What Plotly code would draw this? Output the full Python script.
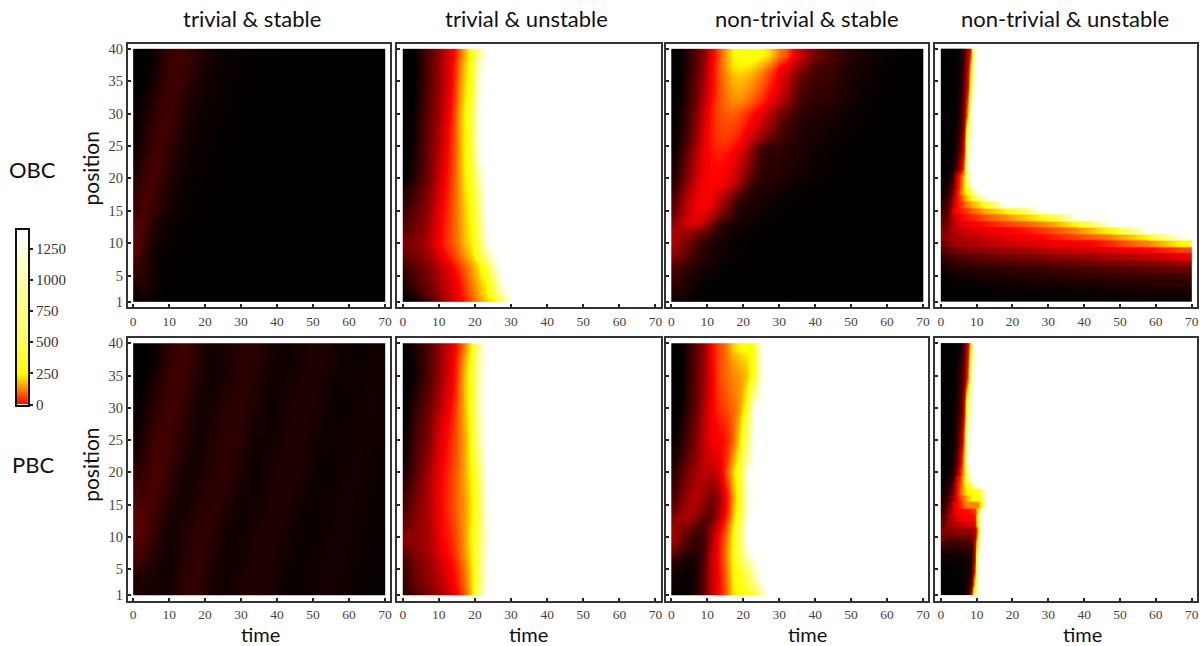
import plotly.graph_objects as go

# ---------- text ----------
column_titles = ["trivial & stable", "trivial & unstable", "non-trivial & stable", "non-trivial & unstable"]
row_titles = ["OBC", "PBC"]
time_ticks = [0, 10, 20, 30, 40, 50, 60, 70]
position_ticks = [1, 5, 10, 15, 20, 25, 30, 35, 40]
colorbar_ticks = [0, 250, 500, 750, 1000, 1250]
colorbar_levels = [0, 50, 100, 150, 200, 250, 300, 400, 500, 600, 750, 900, 1000, 1100, 1250, 1400]

BLACK = -400   # darkest shade, below the colour key
WHITE = 1400   # over-range

# ---------- top left: trivial & stable, OBC ----------
a_time = [0, 2, 4, 6, 8, 10, 12, 14, 16, 18, 20, 24, 28, 34, 44, 70]
a_pos = [1, 3, 5, 8, 10, 12, 15, 20, 25, 30, 35, 40]
a_z = [
    [-385, -370, -380, -390, -396, -398],
    [-350, -345, -370, -385, -392, -396, -398],
    [-310, -335, -365, -385, -392, -395, -397, -398, -399],
    [-265, -315, -360, -380, -388, -392, -395, -396, -397, -398, -399],
    [-260, -295, -345, -370, -382, -388, -392, -395, -396, -397, -398, -399],
    [-280, -285, -325, -355, -370, -380, -388, -392, -394, -395, -396, -398, -399],
    [-320, -285, -290, -325, -350, -365, -378, -385, -390, -393, -395, -397, -398, -399],
    [-365, -325, -295, -295, -320, -345, -365, -375, -383, -388, -392, -395, -397, -399],
    [-385, -360, -325, -300, -300, -315, -345, -365, -375, -380, -388, -393, -396, -398],
    [-395, -385, -355, -320, -305, -305, -320, -345, -360, -370, -380, -388, -395, -398],
    [-400, -400, -385, -355, -325, -310, -305, -315, -335, -350, -370, -385, -392, -397],
]

# ---------- top, second column: trivial & unstable, OBC ----------
b_time = [0, 2, 4, 6, 8, 10, 12, 14, 16, 18, 20, 22, 24, 26, 28, 30]
b_pos = [1, 2, 6, 8, 12, 18, 22, 28, 32, 38, 40]
b_z = [
    [-400, -385, -335, -285, -235, -170, -100, -35, 25, 80, 140, 200, 250, 500, 1100],
    [-345, -300, -260, -220, -170, -115, -60, 0, 60, 125, 185, 240, 550, 1300],
    [-285, -240, -215, -190, -130, -65, 0, 60, 110, 165, 235, 500, 1200],
    [-205, -190, -165, -110, -40, 20, 70, 115, 185, 235, 450, 1200],
    [-300, -260, -220, -160, -75, 0, 60, 125, 195, 270, 650],
    [-395, -340, -285, -215, -130, -40, 45, 125, 225, 330, 900],
    [-400, -375, -300, -230, -160, -70, 30, 125, 235, 400, 1300],
    [-400, -395, -320, -245, -190, -100, 0, 125, 240, 450, 1300],
    [-400, -400, -335, -265, -205, -120, -25, 95, 200, 300, 1200],
    [-400, -400, -340, -270, -210, -130, -45, 60, 170, 280, 800],
]

# ---------- top, third column: non-trivial & stable, OBC ----------
c_time = [0, 2, 4, 6, 8, 10, 12, 14, 16, 18, 20, 22, 24, 26, 28, 30, 34, 38, 42, 46, 50, 56, 62, 70]
c_pos = [1, 2, 6, 8, 12, 14, 18, 20, 24, 26, 30, 32, 36, 38, 40]
c_z = [
    [-375, -380, -390, -395, -398],
    [-330, -340, -360, -375, -385, -390, -393, -396, -398],
    [-250, -280, -310, -335, -350, -365, -380, -385, -390, -393, -396, -398],
    [-130, -190, -240, -290, -330, -350, -360, -370, -382, -388, -392, -395, -397, -398, -399],
    [-170, -90, -50, -60, -120, -210, -300, -345, -360, -365, -375, -385, -390, -393, -396, -398],
    [-260, -160, -80, -20, -5, -30, -110, -190, -280, -345, -355, -355, -365, -375, -385, -390, -395, -398],
    [-320, -230, -140, -50, -10, 0, -5, -40, -100, -190, -280, -340, -350, -345, -355, -370, -385, -392, -396, -398],
    [-360, -280, -190, -90, -25, 5, 10, 0, -40, -100, -170, -260, -320, -335, -330, -345, -365, -380, -390, -395, -398],
    [-380, -320, -235, -130, -30, 20, 40, 40, 20, -30, -100, -200, -290, -330, -320, -335, -355, -372, -385, -393, -397],
    [-390, -345, -265, -170, -50, 25, 60, 70, 65, 45, 5, -40, -100, -170, -230, -300, -345, -355, -370, -385, -393, -398],
    [-395, -365, -285, -200, -90, 15, 70, 100, 115, 100, 75, 40, 0, -60, -120, -210, -320, -335, -345, -365, -385, -396],
    [-400, -380, -305, -230, -130, -10, 60, 120, 160, 170, 150, 120, 80, 30, -15, -110, -280, -310, -320, -350, -375, -393, -399],
    [-400, -385, -315, -250, -160, -20, 70, 150, 215, 230, 220, 195, 150, 95, 40, -50, -190, -285, -300, -340, -370, -390, -398],
    [-400, -390, -320, -260, -180, -30, 60, 150, 245, 275, 285, 275, 255, 215, 150, 80, -90, -225, -285, -325, -360, -385, -395],
]

# ---------- top, fourth column: non-trivial & unstable, OBC (row by row) ----------
d_time = [0, 2, 3, 4, 5, 6, 7, 8, 9, 10, 12, 16, 20, 25, 30, 35, 40, 45, 50, 55, 60, 65, 70]
d_pos = [1, 2, 3, 4, 5, 6, 7, 8, 9, 10, 11, 12, 13, 14, 15, 16, 17, 18, 19, 20, 22, 25, 30, 35, 40]
d_z = [
    [-400, -400, -400, -400, -400, -400, -400, -400, -400, -400, -400, -400, -400, -400, -400, -400, -398, -398, -395, -395, -390, -390],
    [-400, -400, -400, -400, -400, -400, -400, -400, -400, -395, -395, -395, -395, -390, -390, -390, -385, -385, -380, -380, -375, -375],
    [-400, -395, -395, -395, -395, -395, -390, -390, -390, -390, -390, -385, -385, -380, -380, -375, -375, -370, -365, -360, -355, -350],
    [-395, -390, -390, -385, -385, -385, -385, -380, -380, -380, -375, -375, -370, -365, -360, -355, -350, -345, -340, -335, -335, -330],
    [-390, -380, -375, -375, -370, -370, -370, -365, -365, -360, -355, -350, -345, -340, -335, -330, -325, -320, -315, -310, -305, -300],
    [-375, -360, -355, -350, -350, -345, -345, -340, -340, -335, -330, -325, -320, -310, -305, -295, -290, -280, -270, -260, -250, -240],
    [-350, -330, -325, -320, -315, -310, -305, -300, -300, -295, -290, -280, -270, -260, -250, -240, -230, -220, -205, -195, -180, -160],
    [-320, -290, -280, -275, -270, -265, -260, -255, -250, -245, -235, -225, -210, -195, -180, -165, -150, -130, -115, -95, -70, -30],
    [-270, -230, -220, -210, -205, -200, -195, -190, -185, -180, -170, -155, -140, -120, -100, -80, -60, -35, -15, 0, 30, 70],
    [-220, -170, -160, -155, -150, -145, -140, -135, -130, -120, -105, -85, -65, -45, -25, -10, 0, 45, 90, 125, 190, 260],
    [-190, -150, -135, -125, -120, -115, -110, -105, -100, -90, -70, -45, -20, 0, 35, 65, 95, 130, 190, 250, 800],
    [-210, -150, -120, -105, -90, -80, -70, -60, -50, -40, -20, -5, 15, 50, 85, 125, 190, 260, 700],
    [-240, -160, -110, -70, -40, -25, -15, -5, 0, 5, 30, 60, 90, 125, 180, 250, 600],
    [-270, -170, -90, -35, 0, 15, 25, 35, 45, 60, 100, 135, 190, 250, 500, 1300],
    [-300, -180, -30, 5, 25, 45, 65, 85, 105, 130, 190, 240, 500, 1300],
    [-320, -220, -80, 0, 50, 100, 130, 170, 190, 230, 500],
    [-340, -260, -130, 0, 80, 150, 210, 260, 450, 900],
    [-370, -290, -180, -10, 120, 220, 280, 600, 1100],
    [-380, -320, -240, -40, 100, 230, 500, 1300],
    [-390, -350, -270, -60, 90, 230, 900],
    [-400, -390, -360, -280, -100, 130, 1100],
    [-400, -395, -380, -340, -230, 0, 800],
    [-400, -400, -395, -380, -310, -150, 200, 1300],
    [-400, -400, -400, -390, -345, -240, -40, 500],
    [-400, -400, -400, -395, -370, -290, -130, 100, 1100],
]

# ---------- bottom left: trivial & stable, PBC ----------
e_time = [0, 4, 8, 12, 16, 20, 24, 28, 32, 36, 40, 44, 48, 52, 56, 60, 64, 68, 70]
e_pos = [1, 5, 9, 13, 17, 22, 27, 32, 36, 40]
e_z = [
    [-360, -365, -375, -325, -320, -370, -372, -352, -345, -358, -382, -385, -372, -365, -372, -385, -390, -390],
    [-300, -350, -378, -340, -320, -345, -378, -365, -350, -350, -368, -385, -378, -368, -368, -378, -388, -390],
    [-255, -320, -372, -350, -325, -335, -372, -372, -355, -348, -360, -380, -385, -372, -366, -375, -385, -388],
    [-280, -290, -350, -370, -340, -325, -345, -375, -368, -352, -352, -368, -385, -378, -368, -372, -382, -388],
    [-325, -280, -320, -368, -360, -335, -330, -360, -378, -360, -350, -355, -375, -385, -372, -368, -378, -385],
    [-365, -295, -300, -345, -372, -345, -325, -340, -375, -370, -355, -352, -365, -382, -378, -370, -372, -382],
    [-385, -325, -295, -325, -370, -360, -335, -330, -355, -378, -362, -352, -356, -375, -385, -375, -368, -378],
    [-395, -360, -305, -305, -350, -375, -350, -330, -345, -375, -370, -355, -352, -365, -382, -380, -370, -375],
    [-400, -385, -320, -300, -335, -375, -355, -335, -335, -360, -380, -365, -352, -355, -375, -385, -375, -375],
]

# ---------- bottom, second column: trivial & unstable, PBC ----------
f_time = [0, 2, 4, 6, 8, 10, 12, 14, 16, 18, 20, 22, 24, 26]
f_pos = [1, 2, 6, 8, 12, 18, 22, 28, 32, 38, 40]
f_z = [
    [-340, -285, -250, -220, -180, -130, -60, 0, 85, 190, 600],
    [-310, -235, -200, -175, -130, -85, -25, 40, 110, 210, 500, 1300],
    [-270, -215, -180, -150, -95, -40, 15, 70, 140, 230, 550, 1300],
    [-180, -175, -155, -130, -70, 0, 30, 85, 150, 250, 500, 1200],
    [-280, -220, -175, -130, -50, 10, 55, 105, 150, 225, 400, 1300],
    [-350, -280, -210, -140, -60, 0, 50, 100, 165, 250, 500],
    [-380, -300, -250, -200, -95, -25, 30, 90, 160, 270, 900],
    [-400, -330, -280, -225, -160, -80, 0, 85, 180, 300, 1000],
    [-400, -385, -330, -270, -210, -130, -50, 60, 185, 300, 1000],
    [-395, -360, -320, -280, -220, -140, -65, 30, 125, 250, 800],
]

# ---------- bottom, third column: non-trivial & stable, PBC ----------
g_time = [0, 2, 4, 6, 8, 10, 12, 14, 16, 18, 20, 22, 24, 26, 28]
g_pos = [1, 2, 6, 8, 12, 14, 18, 22, 28, 32, 38, 40]
g_z = [
    [-395, -400, -390, -330, -250, -120, -15, 80, 220, 260, 300, 350, 900],
    [-370, -390, -390, -340, -260, -100, -10, 90, 240, 300, 500, 1000],
    [-300, -340, -360, -350, -280, -100, 0, 120, 260, 500, 1100],
    [-150, -230, -280, -320, -290, -150, -10, 100, 250, 600],
    [-180, -130, -130, -200, -270, -250, -120, 20, 190, 400, 1300],
    [-280, -200, -140, -110, -170, -230, -180, -20, 150, 300, 1200],
    [-330, -260, -190, -140, -100, -110, -80, 60, 200, 350, 1300],
    [-385, -340, -260, -190, -90, -20, -5, 20, 100, 220, 600],
    [-400, -385, -300, -230, -120, -20, 40, 70, 100, 150, 300],
    [-400, -390, -310, -240, -150, -30, 60, 100, 130, 150, 190, 300, 1300],
    [-400, -395, -320, -250, -170, 0, 60, 110, 200, 250, 260, 300, 1300],
]

# ---------- bottom, fourth column: non-trivial & unstable, PBC (row by row) ----------
h_time = [0, 1, 2, 3, 4, 5, 6, 7, 8, 9, 10, 11, 12, 13]
h_pos = [1, 3, 5, 7, 8, 9, 10, 11, 12, 13, 14, 15, 16, 17, 18, 19, 20, 22, 25, 30, 35, 40]
h_z = [
    [-400, -400, -400, -400, -400, -395, -380, -330, -60, 600],
    [-400, -400, -400, -400, -395, -395, -385, -360, -250, 250],
    [-390, -395, -395, -395, -390, -390, -385, -375, -340, 50],
    [-370, -375, -375, -375, -370, -370, -365, -360, -340, -60, 1200],
    [-340, -350, -350, -345, -345, -345, -340, -335, -320, -80, 1000],
    [-290, -310, -310, -310, -310, -300, -300, -295, -285, -100, 800],
    [-220, -250, -250, -250, -245, -240, -235, -230, -220, -130, 500],
    [-200, -190, -190, -180, -180, -170, -160, -160, -150, -120, 300],
    [-240, -190, -160, -130, -110, -90, -70, -60, -50, -30, 500],
    [-270, -210, -130, -90, -50, -10, 0, 0, 5, 10, 600],
    [-300, -240, -170, -50, -10, 0, 10, 10, 30, 50, 300],
    [-330, -280, -200, -60, 0, 40, 120, 130, 130, 130, 140, 300],
    [-350, -310, -250, -130, 0, 80, 120, 180, 250, 270, 280, 500],
    [-370, -340, -290, -200, 0, 120, 200, 250, 270, 280, 320, 700],
    [-380, -360, -320, -240, -10, 100, 220, 270, 500, 1200],
    [-390, -380, -350, -290, -50, 80, 260, 700],
    [-400, -390, -370, -330, -190, 60, 200, 900],
    [-400, -395, -385, -350, -260, -30, 240, 1300],
    [-400, -400, -390, -370, -310, -150, 150, 1200],
    [-400, -400, -395, -385, -345, -270, -20, 600],
    [-400, -400, -400, -390, -370, -300, -200, 80, 1000],
    [-400, -400, -400, -400, -395, -360, -260, -60, 400],
]

# ---------- colours ----------
ZMIN, ZMAX = BLACK, WHITE
colour_stops = [(-400, "#000000"), (-300, "#400000"), (-200, "#800000"), (-100, "#c00000"),
                (0, "#ff0000"), (125, "#ff8000"), (250, "#ffff00"), (500, "#ffff55"),
                (750, "#ffff80"), (1000, "#ffffaa"), (1250, "#ffffe6"), (1400, "#ffffff")]
colorscale = [[(v - ZMIN) / (ZMAX - ZMIN), c] for v, c in colour_stops]


def pad(rows, n, fill):
    return [list(r) + [fill] * (n - len(r)) for r in rows]


def band_rows(pos, z):
    """Keep each position a flat band by repeating its row just below and above it."""
    ys, zs = [], []
    for p, row in zip(pos, z):
        ys += [max(p - 0.35, 1.1), min(p + 0.35, 39.9)]
        zs += [row, row]
    return ys, zs


W, H = 1203, 646
VFIX = 0.9915   # the page comes out slightly short vertically


def Y(y):
    return 1 - (y / VFIX) / H


col_px = [(128, 391), (398, 662), (667, 930), (937, 1199)]
row_px = [(41, 307), (338, 603)]
X_TICK_FONT = dict(family="Liberation Serif", size=13.5, color="#444444")
Y_TICK_FONT = dict(family="Liberation Serif", size=14.5, color="#444444")
KEY_TICK_FONT = dict(family="Liberation Serif", size=15, color="#333333")
LABEL_FONT = "Lato"
FRAME = "#333333"

panels = [
    (a_time, a_pos, a_z, BLACK, False), (b_time, b_pos, b_z, WHITE, False),
    (c_time, c_pos, c_z, BLACK, False), (d_time, d_pos, d_z, WHITE, True),
    (e_time, e_pos, e_z, BLACK, False), (f_time, f_pos, f_z, WHITE, False),
    (g_time, g_pos, g_z, WHITE, False), (h_time, h_pos, h_z, WHITE, True),
]

fig = go.Figure()
layout = dict(
    width=W, height=H, margin=dict(l=0, r=0, t=0, b=0), autosize=False,
    paper_bgcolor="white", plot_bgcolor="white", showlegend=False,
    coloraxis=dict(colorscale=colorscale, cmin=ZMIN, cmax=ZMAX, showscale=False),
)

for i, (t, pos, z, fill, banded) in enumerate(panels):
    r, c = divmod(i, 4)
    n = i + 1
    xname = "x" if n == 1 else f"x{n}"
    yname = "y" if n == 1 else f"y{n}"
    if banded:
        y_vals, z_vals = band_rows(pos, pad(z, len(t) - 1, fill))
    else:
        y_vals, z_vals = pos, pad(z, len(t) - 1, fill)
    fig.add_trace(go.Heatmap(x=t, y=y_vals, z=z_vals, coloraxis="coloraxis", zsmooth="best",
                             xaxis=xname, yaxis=yname, hoverinfo="skip"))
    x0, x1 = col_px[c]
    y0, y1 = row_px[r]
    layout[f"xaxis{n if n > 1 else ''}"] = dict(
        domain=[x0 / W, x1 / W], range=[-1.5, 71.5], anchor=yname,
        tickmode="array", tickvals=time_ticks, ticks="inside", ticklen=3, tickwidth=1.5, tickcolor="#222222",
        showgrid=False, zeroline=False, showline=True, mirror=True, linewidth=2, linecolor=FRAME,
        tickfont=X_TICK_FONT,
    )
    layout[f"yaxis{n if n > 1 else ''}"] = dict(
        domain=[Y(y1), Y(y0)], range=[0.1, 40.8], anchor=xname,
        tickmode="array", tickvals=position_ticks, ticks="inside", ticklen=3, tickwidth=1.5, tickcolor="#222222",
        showgrid=False, zeroline=False, showline=True, mirror=True, linewidth=2, linecolor=FRAME,
        showticklabels=c == 0, tickfont=Y_TICK_FONT,
    )

# colour key, drawn as its own small heatmap
fig.add_trace(go.Heatmap(x=[0, 1], y=colorbar_levels, z=[[v, v] for v in colorbar_levels],
                         coloraxis="coloraxis", zsmooth="best", xaxis="x9", yaxis="y9", hoverinfo="skip"))
layout["xaxis9"] = dict(domain=[17 / W, 28 / W], range=[0, 1], anchor="y9", showticklabels=False, ticks="",
                        showgrid=False, zeroline=False, showline=True, mirror=True, linewidth=2, linecolor="#111111")
layout["yaxis9"] = dict(domain=[Y(405), Y(229)], range=[0, 1400], anchor="x9", side="right",
                        tickmode="array", tickvals=colorbar_ticks, ticks="outside", ticklen=3, tickwidth=1.5,
                        tickcolor="#222222", showgrid=False, zeroline=False, showline=True, mirror=True,
                        linewidth=2, linecolor="#111111", tickfont=KEY_TICK_FONT)


def px_text(text, x, y, size, angle=0):
    return dict(text=text, x=x / W, y=Y(y), xref="paper", yref="paper", xanchor="center", yanchor="middle",
                showarrow=False, textangle=angle, font=dict(family=LABEL_FONT, size=size, color="#111111"))


title_x = [252, 527, 808, 1067]
time_x = [261, 529, 809, 1084]
notes = [px_text(s, x, 16, 22) for s, x in zip(column_titles, title_x)]
notes += [px_text("time", x, 636, 20) for x in time_x]
notes += [px_text("position", 91, 167, 21, -90), px_text("position", 91, 466, 21, -90)]
notes += [px_text(row_titles[0], 33, 168, 22), px_text(row_titles[1], 33, 466, 22)]
layout["annotations"] = notes
fig.update_layout(**layout)
fig.write_html("out.html", config={"displayModeBar": False}, post_script="document.body.style.margin='0';")
